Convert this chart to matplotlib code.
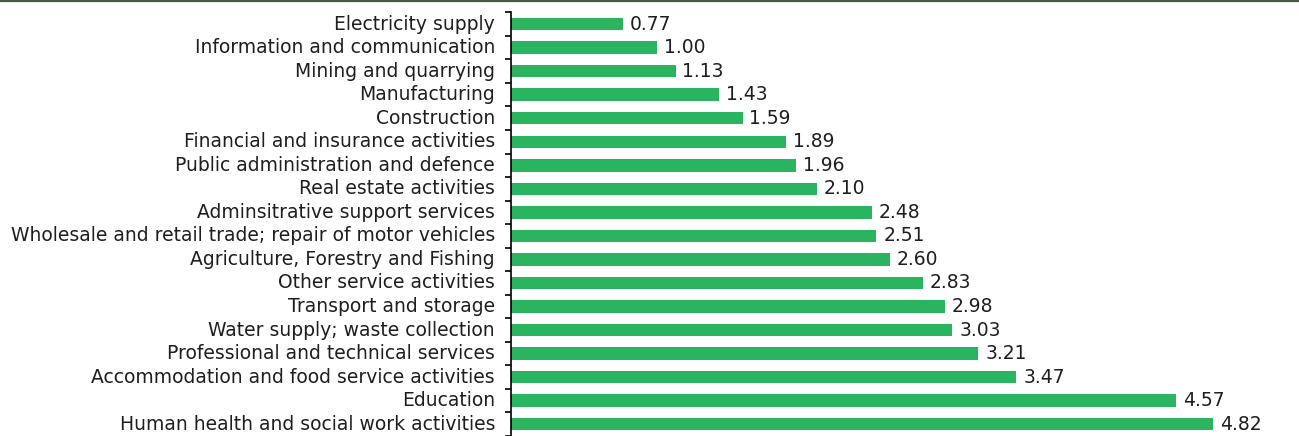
import numpy as np
import matplotlib
matplotlib.use("Agg")
import matplotlib.pyplot as plt
from matplotlib.lines import Line2D

sectors = [
    "Electricity supply",
    "Information and communication",
    "Mining and quarrying",
    "Manufacturing",
    "Construction",
    "Financial and insurance activities",
    "Public administration and defence",
    "Real estate activities",
    "Adminsitrative support services",
    "Wholesale and retail trade; repair of motor vehicles",
    "Agriculture, Forestry and Fishing",
    "Other service activities",
    "Transport and storage",
    "Water supply; waste collection",
    "Professional and technical services",
    "Accommodation and food service activities",
    "Education",
    "Human health and social work activities",
]
values = [0.77, 1.00, 1.13, 1.43, 1.59, 1.89, 1.96, 2.10, 2.48,
          2.51, 2.60, 2.83, 2.98, 3.03, 3.21, 3.47, 4.57, 4.82]

plt.rcParams['font.family'] = ['DejaVu Sans']

fig = plt.figure(figsize=(12.99, 4.36), dpi=100)
ax = fig.add_axes([511 / 1299, 0.0, 1 - 511 / 1299, 1 - 12.3 / 436])

y = np.arange(len(sectors))
ax.barh(y, values, height=0.53, color='#2bb45f')
ax.set_ylim(len(sectors) - 0.5, -0.5)
ax.set_xlim(0, 788 / 145.6)

for yi, v in zip(y, values):
    ax.annotate(f"{v:.2f}", (v, yi), xytext=(5, 0), textcoords='offset points',
                va='center', ha='left', fontsize=13.5, color='#1e1e1e')

ax.set_yticks(y)
ax.set_yticklabels(sectors, fontsize=13.5, color='#1e1e1e', va='center')
ax.set_yticks(np.arange(-0.5, len(sectors)), minor=True)
ax.tick_params(axis='y', which='major', length=0, pad=11.5)
ax.tick_params(axis='y', which='minor', length=4.3, width=1.2, direction='out')
ax.set_xticks([])
for s in ['top', 'right', 'bottom']:
    ax.spines[s].set_visible(False)
ax.spines['left'].set_linewidth(1.2)

fig.add_artist(Line2D([0, 1], [1 - 1 / 436, 1 - 1 / 436], transform=fig.transFigure,
                      color='#4b5848', linewidth=1.6))

plt.savefig("out.png", dpi=100)
